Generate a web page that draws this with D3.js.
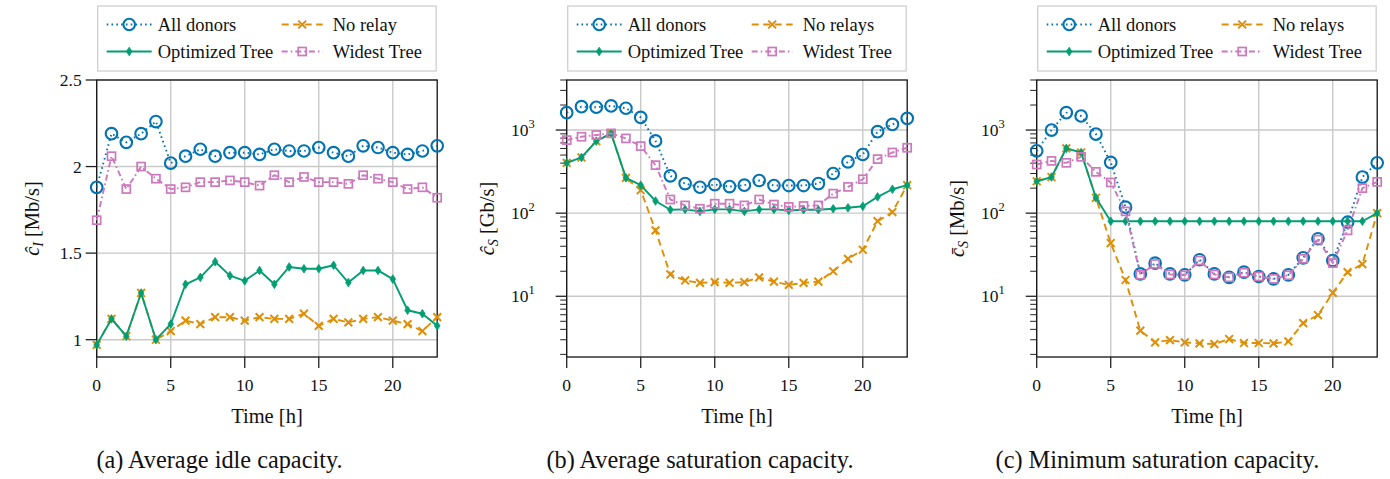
<!DOCTYPE html>
<html><head><meta charset="utf-8">
<script src="https://cdn.jsdelivr.net/npm/d3@7"></script>
<style>body{margin:0;background:#fff}svg{display:block}</style>
</head><body>
<svg id="c" width="1390" height="479"></svg>
<script>
// ---------- data ----------
const hours = [0,1,2,3,4,5,6,7,8,9,10,11,12,13,14,15,16,17,18,19,20,21,22,23];
const xTicks = [0,5,10,15,20];
const idleTicks = [1,1.5,2,2.5];
const logTicks = [10,100,1000];
const logMinor = [2,3,4,5,6,7,8,9,20,30,40,50,60,70,80,90,200,300,400,500,600,700,800,900,2000,3000,4000];

const idleAllDonors = [1.88,2.19,2.14,2.19,2.26,2.02,2.06,2.10,2.06,2.08,2.08,2.07,2.10,2.09,2.09,2.11,2.08,2.06,2.12,2.11,2.08,2.07,2.09,2.12];
const idleNoRelay   = [0.97,1.12,1.02,1.27,1.00,1.05,1.11,1.09,1.13,1.13,1.11,1.13,1.12,1.12,1.15,1.08,1.12,1.10,1.12,1.13,1.11,1.09,1.05,1.13];
const idleOptimized = [0.97,1.12,1.02,1.27,1.00,1.09,1.32,1.36,1.45,1.37,1.34,1.40,1.32,1.42,1.41,1.41,1.43,1.33,1.40,1.40,1.35,1.17,1.15,1.08];
const idleWidest    = [1.69,2.06,1.87,2.00,1.93,1.87,1.88,1.91,1.91,1.92,1.91,1.89,1.95,1.91,1.94,1.91,1.91,1.90,1.95,1.93,1.91,1.87,1.88,1.82];

const avgAllDonors = [1620,1910,1880,1950,1830,1420,740,281,227,205,221,209,217,247,215,215,215,227,300,415,508,955,1170,1380];
const avgNoRelays  = [403,468,736,912,266,189,62,18.3,15.5,14.5,14.8,14.5,14.8,16.9,15.0,13.7,14.5,15.0,20.0,28.2,36.3,80,103,217];
const avgOptimized = [403,468,736,912,266,217,140,110,111,105,111,111,105,111,111,108,110,110,113,116,121,157,194,217];
const avgWidest    = [757,831,871,912,793,641,378,146,124,113,130,130,124,146,127,119,122,124,172,207,256,447,537,612];

const minAllDonors = [562,1000,1620,1475,895,408,118,18.6,25,18.6,18.1,27.5,18.6,16.9,19.5,17.3,16.2,18.1,29,49.2,26.9,77.8,272,403];
const minNoRelays  = [242,272,601,537,153,43.7,15.7,3.86,2.79,2.97,2.79,2.71,2.66,3.06,2.74,2.74,2.71,2.86,4.76,5.95,11.0,19.5,24.4,100];
const minOptimized = [242,272,601,537,153,80,80,80,80,80,80,80,80,80,80,80,80,80,80,80,80,80,80,100];
const minWidest    = [385,425,403,476,314,234,105,18.1,24.5,18.3,17.9,26.9,18.3,16.9,19.2,17.3,16.2,17.9,28.2,48,25.1,62,200,238];

const legendA = ["All donors","No relay","Optimized Tree","Widest Tree"];
const legendBC = ["All donors","No relays","Optimized Tree","Widest Tree"];
const captions = ["(a) Average idle capacity.","(b) Average saturation capacity.","(c) Minimum saturation capacity."];
const xLabel = "Time [h]";

// ---------- styles ----------
const FONT = '"Liberation Serif","Times New Roman",serif';
const styles = [
  {color:'#0173B2', dash:'1.6,3.2', marker:'circle'},
  {color:'#DE8F05', dash:'7,4.5', marker:'x'},
  {color:'#029E73', dash:null, marker:'diamond'},
  {color:'#CC78BC', dash:'6,3,1.6,3', marker:'square'}
];
const drawOrder = [0,1,2,3];

const TOP = 80, BOTTOM = 357, PW = 340.5;
const panels = [
  {left:96.7, log:false, series:[idleAllDonors,idleNoRelay,idleOptimized,idleWidest], legend:legendA,
   ylab:['ĉ','I',' [Mb/s]'], ylabX:39, caption:captions[0], capX:219.5},
  {left:566.7, log:true, series:[avgAllDonors,avgNoRelays,avgOptimized,avgWidest], legend:legendBC,
   ylab:['ĉ','S',' [Gb/s]'], ylabX:494, caption:captions[1], capX:700},
  {left:1036.7, log:true, series:[minAllDonors,minNoRelays,minOptimized,minWidest], legend:legendBC,
   ylab:['c\u0304','S',' [Mb/s]'], ylabX:964, caption:captions[2], capX:1157.4}
];

const svg = d3.select('#c');

function marker(g, type, color, cx, cy){
  if(type==='circle'){
    g.append('circle').attr('cx',cx).attr('cy',cy).attr('r',5.8)
     .attr('fill','none').attr('stroke',color).attr('stroke-width',2.1);
  } else if(type==='x'){
    const s=3.9;
    g.append('path').attr('d',`M${cx-s},${cy-s}L${cx+s},${cy+s}M${cx-s},${cy+s}L${cx+s},${cy-s}`)
     .attr('stroke',color).attr('stroke-width',2).attr('fill','none');
  } else if(type==='diamond'){
    g.append('path').attr('d',`M${cx},${cy-4.3}L${cx+2.8},${cy}L${cx},${cy+4.3}L${cx-2.8},${cy}Z`)
     .attr('fill',color).attr('stroke',color).attr('stroke-width',0.8);
  } else if(type==='square'){
    g.append('rect').attr('x',cx-4).attr('y',cy-4).attr('width',8).attr('height',8)
     .attr('fill','none').attr('stroke',color).attr('stroke-width',1.7);
  }
}

panels.forEach(p=>{
  const g = svg.append('g');
  const L = p.left, R = L+PW;
  const x = d3.scaleLinear().domain([0,23]).range([L,R]);
  const y = p.log ? d3.scaleLog().domain([1.86,4000]).range([BOTTOM,TOP])
                  : d3.scaleLinear().domain([0.9,2.5]).range([BOTTOM,TOP]);
  const yMajor = p.log ? logTicks : idleTicks;

  // grid
  g.append('g').selectAll('line').data(xTicks).join('line')
    .attr('x1',d=>x(d)).attr('x2',d=>x(d)).attr('y1',TOP).attr('y2',BOTTOM)
    .attr('stroke','#c9c9c9').attr('stroke-width',1.4);
  g.append('g').selectAll('line').data(yMajor).join('line')
    .attr('x1',L).attr('x2',R).attr('y1',d=>y(d)).attr('y2',d=>y(d))
    .attr('stroke','#c9c9c9').attr('stroke-width',1.4);

  // frame
  g.append('rect').attr('x',L).attr('y',TOP).attr('width',PW).attr('height',BOTTOM-TOP)
    .attr('fill','none').attr('stroke','#111').attr('stroke-width',1.3);

  // ticks
  g.append('g').selectAll('line').data(xTicks).join('line')
    .attr('x1',d=>x(d)).attr('x2',d=>x(d)).attr('y1',BOTTOM).attr('y2',BOTTOM+11)
    .attr('stroke','#222').attr('stroke-width',1.3);
  g.append('g').selectAll('text').data(xTicks).join('text')
    .attr('x',d=>x(d)).attr('y',BOTTOM+34).attr('text-anchor','middle')
    .attr('font-family',FONT).attr('font-size',17.5).attr('fill','#111').text(d=>d);
  g.append('g').selectAll('line').data(yMajor).join('line')
    .attr('x1',L-11).attr('x2',L).attr('y1',d=>y(d)).attr('y2',d=>y(d))
    .attr('stroke','#222').attr('stroke-width',1.3);
  if(p.log){
    g.append('g').selectAll('line').data(logMinor.filter(v=>v>=1.86&&v<=4000)).join('line')
      .attr('x1',L-6.5).attr('x2',L).attr('y1',d=>y(d)).attr('y2',d=>y(d))
      .attr('stroke','#222').attr('stroke-width',1);
    const t = g.append('g').selectAll('text').data(yMajor).join('text')
      .attr('x',L-32).attr('y',d=>y(d)+6).attr('text-anchor','end')
      .attr('font-family',FONT).attr('font-size',17.5).attr('fill','#111');
    t.append('tspan').text('10');
    t.append('tspan').attr('dy',-8).attr('font-size',12.5).text(d=>Math.round(Math.log10(d)));
  } else {
    g.append('g').selectAll('text').data(yMajor).join('text')
      .attr('x',L-15).attr('y',d=>y(d)+6).attr('text-anchor','end')
      .attr('font-family',FONT).attr('font-size',17.5).attr('fill','#111').text(d=>d);
  }

  // series
  drawOrder.forEach(i=>{
    const st = styles[i], vals = p.series[i];
    const line = d3.line().x((d,k)=>x(hours[k])).y(d=>y(d));
    g.append('path').datum(vals).attr('d',line).attr('fill','none')
      .attr('stroke',st.color).attr('stroke-width',1.9)
      .attr('stroke-dasharray',st.dash).attr('stroke-linejoin','round');
    const mg = g.append('g');
    vals.forEach((v,k)=>marker(mg, st.marker, st.color, x(hours[k]), y(v)));
  });

  // legend
  const lg = g.append('g');
  lg.append('rect').attr('x',L+1).attr('y',6).attr('width',PW-2).attr('height',65)
    .attr('fill','#fff').attr('stroke','#cfcfcf').attr('stroke-width',1.3);
  const pos = [[0,24.5],[1,24.5],[0,51.5],[1,51.5]];
  p.legend.forEach((name,i)=>{
    const st = styles[i];
    const [col,cy] = pos[i];
    const x0 = col===0 ? L+10 : L+185, x1 = col===0 ? L+55 : L+226;
    const tx = col===0 ? L+61 : L+236;
    lg.append('line').attr('x1',x0).attr('x2',x1).attr('y1',cy).attr('y2',cy)
      .attr('stroke',st.color).attr('stroke-width',1.9).attr('stroke-dasharray',st.dash);
    marker(lg, st.marker, st.color, (x0+x1)/2, cy);
    lg.append('text').attr('x',tx).attr('y',cy+6).attr('font-family',FONT)
      .attr('font-size',18.5).attr('fill','#111').text(name);
  });

  // axis labels
  g.append('text').attr('x',(L+R)/2).attr('y',423).attr('text-anchor','middle')
    .attr('font-family',FONT).attr('font-size',20.5).attr('fill','#111').text(xLabel);
  const yl = g.append('text').attr('transform',`translate(${p.ylabX},${(TOP+BOTTOM)/2}) rotate(-90)`)
    .attr('text-anchor','middle').attr('font-family',FONT).attr('font-size',20.5).attr('fill','#111');
  yl.append('tspan').attr('font-style','italic').text(p.ylab[0]);
  yl.append('tspan').attr('font-style','italic').attr('font-size',14).attr('dy',4).text(p.ylab[1]);
  yl.append('tspan').attr('dy',-4).text(p.ylab[2]);

  // caption
  g.append('text').attr('x',p.capX).attr('y',468).attr('text-anchor','middle')
    .attr('font-family',FONT).attr('font-size',24.3).attr('fill','#111').text(p.caption);
});
</script>
</body></html>
